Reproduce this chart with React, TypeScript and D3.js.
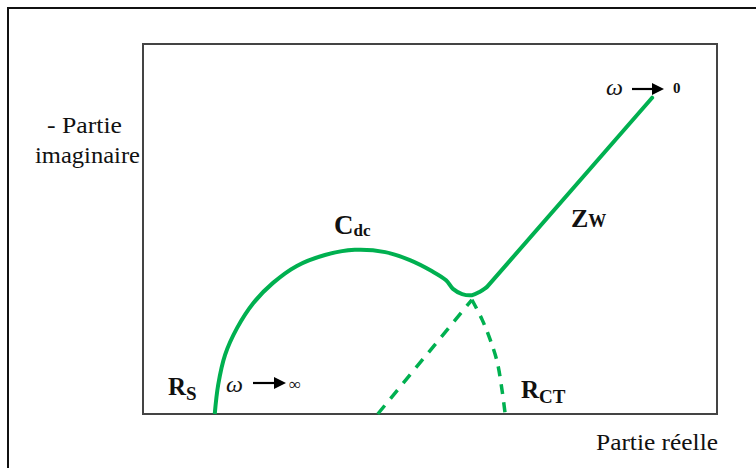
import React from "react";
import * as d3 from "d3";

// Nyquist diagram of a Randles-type cell (units: arbitrary, -Im vs Re)
const arcRe = [12.5, 13.1, 14.3, 16.4, 19.2, 22.6, 26.8, 31.7, 36.9, 42.2, 46.5, 50.3, 52.8, 54.0, 55.6, 57.3, 58.7, 59.9];
const arcIm = [0, 5.1, 10.3, 15.0, 19.3, 22.8, 25.8, 27.7, 28.6, 28.2, 26.8, 24.9, 23.3, 21.8, 20.9, 20.7, 21.3, 22.1];

// Warburg diffusion branch (straight line at ~45°)
const warburgRe = [59.9, 88.7];
const warburgIm = [22.1, 55.1];

// Extrapolated end of the charge-transfer semicircle
const extRe = [57.3, 59.1, 60.5, 61.7, 62.5, 63.1];
const extIm = [19.9, 16.4, 12.9, 9.1, 4.5, 0];

// Radius of the semicircle (from its centre)
const radiusRe = [40.9, 57.3];
const radiusIm = [0, 19.9];

const W = 756;
const H = 468;
const GREEN = "#00b050";
const SERIF = "Liberation Serif, DejaVu Serif, serif";
const INK = "#111";

type Pt = [number, number];
const zip = (a: number[], b: number[]): Pt[] => a.map((v, i) => [v, b[i]]);

function Arrow({ x1, x2, y }: { x1: number; x2: number; y: number }) {
  return (
    <g>
      <line x1={x1} x2={x2 - 8} y1={y} y2={y} stroke="#000" strokeWidth={2.2} />
      <polygon points={`${x2},${y} ${x2 - 12},${y - 6} ${x2 - 12},${y + 6}`} fill="#000" />
    </g>
  );
}

export default function App() {
  const x = d3.scaleLinear().domain([0, 100]).range([143, 717]);
  const y = d3.scaleLinear().domain([0, 64.46]).range([414, 44]);

  const curved = d3
    .line<Pt>()
    .x((d) => x(d[0]))
    .y((d) => y(d[1]))
    .curve(d3.curveCatmullRom.alpha(0.5));
  const straight = d3
    .line<Pt>()
    .x((d) => x(d[0]))
    .y((d) => y(d[1]));

  const t = { fontFamily: SERIF, fill: INK } as React.CSSProperties;

  return (
    <svg width={W} height={H} style={{ position: "absolute", left: 0, top: 0, background: "#fff" }}>
      <rect x={0} y={0} width={W} height={H} fill="#fff" />
      {/* outer frame */}
      <rect x={8} y={8} width={W + 20} height={H + 20} fill="none" stroke="#111" strokeWidth={2} />
      {/* plot box */}
      <rect x={x(0)} y={y(64.46)} width={x(100) - x(0)} height={y(0) - y(64.46)} fill="none" stroke="#444" strokeWidth={2} />

      {/* dashed construction lines */}
      <path d={curved(zip(extRe, extIm)) || ""} fill="none" stroke={GREEN} strokeWidth={3.5} strokeDasharray="10 8" />
      <path d={straight(zip(radiusRe, radiusIm)) || ""} fill="none" stroke={GREEN} strokeWidth={3.5} strokeDasharray="11 9" />

      {/* measured impedance */}
      <path d={curved(zip(arcRe, arcIm)) || ""} fill="none" stroke={GREEN} strokeWidth={4} strokeLinejoin="round" />
      <path d={straight(zip(warburgRe, warburgIm)) || ""} fill="none" stroke={GREEN} strokeWidth={4} strokeLinecap="round" />

      {/* axis titles */}
      <text x={47} y={133} fontSize={23} style={t} textLength={75} lengthAdjust="spacingAndGlyphs">- Partie</text>
      <text x={35} y={163} fontSize={23} style={t} textLength={105} lengthAdjust="spacingAndGlyphs">imaginaire</text>
      <text x={596} y={450} fontSize={23} style={t} textLength={122} lengthAdjust="spacingAndGlyphs">Partie réelle</text>

      {/* element labels */}
      <text x={334} y={234} fontSize={27} fontWeight="bold" style={t}>
        C<tspan fontSize={17} dy={2}>dc</tspan>
      </text>
      <text x={571} y={227} fontSize={26} fontWeight="bold" style={t}>
        Z<tspan fontSize={18}>W</tspan>
      </text>
      <text x={168} y={395} fontSize={25} fontWeight="bold" style={t}>
        R<tspan fontSize={19} dy={5}>S</tspan>
      </text>
      <text x={521} y={398} fontSize={25} fontWeight="bold" style={t}>
        R<tspan fontSize={19} dy={5}>CT</tspan>
      </text>

      {/* frequency limits */}
      <text x={226} y={392} fontSize={24} fontStyle="italic" style={t}>ω</text>
      <Arrow x1={253} x2={286} y={383} />
      <text x={289} y={390} fontSize={17} style={t}>∞</text>

      <text x={606} y={95} fontSize={24} fontStyle="italic" style={t}>ω</text>
      <Arrow x1={632} x2={664} y={89} />
      <text x={673} y={93} fontSize={15} fontWeight="bold" style={t}>0</text>
    </svg>
  );
}
